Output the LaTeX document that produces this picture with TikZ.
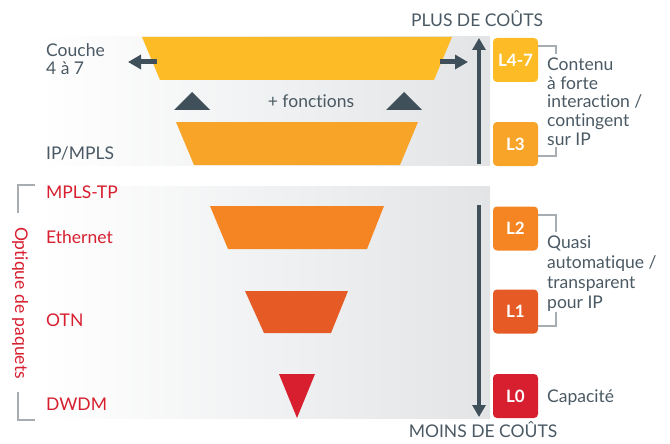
\documentclass[tikz,border=0pt]{standalone}
\usepackage{fontspec}
\setmainfont{Lato}[Ligatures={NoCommon}]
\usetikzlibrary{arrows.meta}

\definecolor{lyellow}{HTML}{FDBC26}
\definecolor{lamber}{HTML}{F7A428}
\definecolor{lorange}{HTML}{F58422}
\definecolor{lrust}{HTML}{E65A25}
\definecolor{lred}{HTML}{D71F2F}
\definecolor{slate}{HTML}{3F505B}
\definecolor{txtgray}{HTML}{4A5963}
\definecolor{brgray}{HTML}{A8ADB1}
\definecolor{panelgray}{HTML}{E2E4E6}

\tikzset{
  txt/.style={font=\fontsize{17.5}{18.5}\selectfont, text=txtgray, inner sep=0pt, anchor=base west},
  redtxt/.style={txt, text=lred},
  head/.style={font=\fontsize{17.5}{18}\selectfont, text=txtgray, inner sep=0pt, anchor=base},
  lbox/.style={minimum width=45pt, minimum height=44pt, rounded corners=4pt, inner sep=0pt,
    text=white, font=\fontsize{17}{18}\selectfont\bfseries},
  bracket/.style={draw=brgray, line width=2pt},
  fatarrow/.style={draw=slate, line width=5pt, -{Triangle[length=13pt, width=14pt]}},
  costarrow/.style={draw=slate, line width=3.5pt, -{Triangle[length=12pt, width=13pt]}},
  panel/.style={left color=white, middle color=panelgray!80, right color=panelgray}
}

\begin{document}
\begin{tikzpicture}[x=1pt, y=-1pt]
\useasboundingbox (0,0) rectangle (670,444);

% shaded panels
\shade[panel] (40,37) rectangle (490,165);
\shade[panel] (40,186) rectangle (490,418);

% funnel layers
\fill[lyellow] (142,37) -- (452,37) -- (434,80) -- (160,80) -- cycle;
\fill[lamber]  (176,122) -- (418,122) -- (400,165) -- (194,165) -- cycle;
\fill[lorange] (210,206) -- (384,206) -- (367,249) -- (228,249) -- cycle;
\fill[lrust]   (245,291) -- (348,291) -- (331,333) -- (264,333) -- cycle;
\fill[lred]    (279,374) -- (315,374) -- (297,418) -- cycle;

% growth markers between the upper layers
\fill[slate] (174,110) -- (192,92) -- (210,110) -- cycle;
\fill[slate] (386,110) -- (404,92) -- (422,110) -- cycle;
\node[head] (fonctions) at (311,107) {+ fonctions};

% sideways arrows of the top layer
\coordinate (lstart) at (157,62);
\coordinate (lend) at (128,62);
\coordinate (rstart) at (440,62);
\coordinate (rend) at (468,62);
\draw[fatarrow] (lstart) -- (lend);
\draw[fatarrow] (rstart) -- (rend);

% cost axis
\coordinate (upfoot) at (479,164);
\coordinate (uptip) at (479,38);
\coordinate (downtop) at (479,205);
\coordinate (downtip) at (479,417);
\draw[costarrow] (upfoot) -- (uptip);
\draw[costarrow] (downtop) -- (downtip);
\node[head] (plus) at (477,27) {PLUS DE COÛTS};
\node[head] (moins) at (483,437) {MOINS DE COÛTS};

% layer boxes
\node[lbox, fill=lyellow] (l47) at (515.5,60) {L4-7};
\node[lbox, fill=lamber]  (l3)  at (515.5,144) {L3};
\node[lbox, fill=lorange] (l2)  at (515.5,228.5) {L2};
\node[lbox, fill=lrust]   (l1)  at (515.5,311.5) {L1};
\node[lbox, fill=lred]    (l0)  at (515.5,396) {L0};

% brackets
\draw[bracket] (l47.east |- 0,46) -- (556,46) -- (556,54);
\draw[bracket] (556,147) -- (556,156) -- (l3.east |- 0,156);
\draw[bracket] (l2.east |- 0,215) -- (556,215) -- (556,232);
\draw[bracket] (556,312) -- (556,326) -- (l1.east |- 0,326);
\draw[bracket] (35,185) -- (18,185) -- (18,213);
\draw[bracket] (18,392) -- (18,420) -- (35,420);

% descriptions (anchored at the baseline of their last line)
\node[txt, align=left] (desc1) at (547,145) {Contenu\\à forte\\interaction /\\contingent\\sur IP};
\node[txt, align=left, font=\fontsize{17.5}{19.7}\selectfont] (desc2) at (547,308) {Quasi\\automatique /\\transparent\\pour IP};
\node[txt] (desc3) at (547,402) {Capacité};

% left labels
\node[txt, align=left, font=\fontsize{17.5}{18}\selectfont] (couche) at (46,75) {Couche\\4 à 7};
\node[txt] (ipmpls) at (46,159) {IP/MPLS};
\node[redtxt] (mplstp) at (46,198) {MPLS-TP};
\node[redtxt] (eth) at (46,243) {Ethernet};
\node[redtxt] (otn) at (46,326) {OTN};
\node[redtxt] (dwdm) at (46,410) {DWDM};
\node[font=\fontsize{17.5}{18}\selectfont, text=lred, rotate=-90, inner sep=0pt] (optique) at (20,303) {Optique de paquets};
\end{tikzpicture}
\end{document}
